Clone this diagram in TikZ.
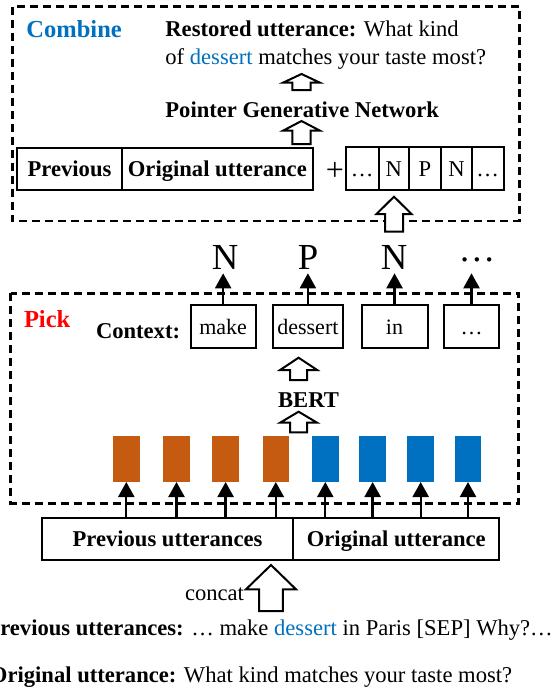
\documentclass[tikz,border=0pt]{standalone}
\usepackage{fontspec}
\setmainfont{Liberation Serif}
\usetikzlibrary{arrows.meta}
\definecolor{myblue}{HTML}{0070C0}
\definecolor{myorange}{HTML}{C55A11}
\definecolor{myred}{HTML}{FF0000}
\newcommand\myfs[1]{\fontsize{#1}{#1}\selectfont}
\newcommand\hollowarrow[6]{%
  \draw[hollow] (#1,#2) -- (#1+#3,#5) -- (#1+#4,#5) -- (#1+#4,#6) -- (#1-#4,#6) -- (#1-#4,#5) -- (#1-#3,#5) -- cycle;}
\begin{document}
\begin{tikzpicture}[x=1pt,y=-1pt,
  every node/.style={inner sep=0pt, outer sep=0pt},
  txt/.style={font=\myfs{22.6}},
  btxt/.style={font=\myfs{22.6}\bfseries},
  box/.style={draw, line width=2pt, text height=15pt, text depth=0pt},
  dashbox/.style={draw, line width=2.5pt, dash pattern=on 8pt off 5pt},
  arr/.style={line width=2.3pt, -{Triangle[width=16pt,length=15pt]}},
  hollow/.style={draw, line width=2pt, fill=white, line join=miter},
  bar/.style={minimum width=26.5pt, minimum height=46pt},
  big/.style={font=\myfs{36.7}, text depth=0pt}]
\useasboundingbox (0,0) rectangle (554,688);
\clip (0,0) rectangle (554,688);

% group boxes
\draw[dashbox] (12.7,6.7) rectangle (519.4,221);
\draw[dashbox] (10.6,293.3) rectangle (518.7,503.3);

% ---------- Combine ----------
\node[anchor=base west, font=\myfs{24.5}\bfseries, text=myblue] (comb) at (26.5,37.5) {Combine};
\node[anchor=base west, txt] (rest1) at (165.4,36.7) {\textbf{Restored utterance:} What kind};
\node[anchor=base west, txt] (rest2) at (165.4,64) {of \textcolor{myblue}{dessert} matches your taste most?};
\node[anchor=base west, btxt] (pgn) at (165.4,117) {Pointer Generative Network};

\node[box, btxt, minimum width=105pt, minimum height=42pt, anchor=north west] (cprev) at (17,148) {Previous};
\node[box, btxt, minimum width=190.7pt, minimum height=42pt, anchor=north west] (corig) at (122,148) {Original utterance};
\node[font=\myfs{32}] (plus) at (335,171.5) {+};
\node[box, txt, minimum width=33.2pt, minimum height=43pt, anchor=north west] (t1) at (345.6,147) {…};
\node[box, txt, minimum width=30pt, minimum height=43pt, anchor=north west] (t2) at (378.8,147) {N};
\node[box, txt, minimum width=32.2pt, minimum height=43pt, anchor=north west] (t3) at (408.8,147) {P};
\node[box, txt, minimum width=31pt, minimum height=43pt, anchor=north west] (t4) at (441,147) {N};
\node[box, txt, minimum width=31.5pt, minimum height=43pt, anchor=north west] (t5) at (472,147) {…};

\hollowarrow{301.5}{74}{18.5}{9.2}{82.7}{90}
\hollowarrow{301.5}{121}{18.5}{9.2}{130.7}{144}
\hollowarrow{394}{196.7}{17.5}{9}{214}{231.7}

% ---------- Pick ----------
\node[anchor=base west, font=\myfs{24.5}\bfseries, text=myred] (pick) at (24,327.3) {Pick};
\node[anchor=base west, btxt] (ctx) at (96,338.3) {Context:};
\node[box, font=\myfs{22}, minimum width=64.7pt, minimum height=43pt, anchor=north west] (c1) at (190.8,305) {make};
\node[box, font=\myfs{22}, minimum width=69.8pt, minimum height=43pt, anchor=north west] (c2) at (273,305) {dessert};
\node[box, font=\myfs{22}, minimum width=66.1pt, minimum height=43pt, anchor=north west] (c3) at (361.5,305) {in};
\node[box, font=\myfs{22}, minimum width=55pt, minimum height=43pt, anchor=north west] (c4) at (444,305) {…};

\node[big, anchor=base] (l1) at (225,269.3) {N};
\node[big, anchor=base] (l2) at (308,269.3) {P};
\node[big, anchor=base] (l3) at (394,269.3) {N};
\node[big, anchor=base] (l4) at (477,261) {…};

\draw[arr, shorten >=4pt] (c1.north) -- (c1.north |- l1.south);
\draw[arr, shorten >=4pt] (c2.north) -- (c2.north |- l2.south);
\draw[arr, shorten >=4pt] (c3.north) -- (c3.north |- l3.south);
\draw[arr, shorten >=4pt] (c4.north) -- (c4.north |- l1.south);

\hollowarrow{298.6}{357.7}{18.5}{8.5}{370}{380}
\node[anchor=base, btxt] (bert) at (308.5,407.7) {BERT};
\hollowarrow{298.6}{411.7}{18.5}{8.5}{422.7}{432.3}

\node[bar, fill=myorange] (b1) at (126.3,459) {};
\node[bar, fill=myorange] (b2) at (176.5,459) {};
\node[bar, fill=myorange] (b3) at (225.6,459) {};
\node[bar, fill=myorange] (b4) at (275.8,459) {};
\node[bar, fill=myblue] (b5) at (325.3,459) {};
\node[bar, fill=myblue] (b6) at (372.6,459) {};
\node[bar, fill=myblue] (b7) at (420.7,459) {};
\node[bar, fill=myblue] (b8) at (468,459) {};

% ---------- input ----------
\node[box, btxt, minimum width=251.6pt, minimum height=41.7pt, anchor=north west] (bprev) at (41.7,518.3) {Previous utterances};
\node[box, btxt, minimum width=206pt, minimum height=41.7pt, anchor=north west] (borig) at (293.3,518.3) {Original utterance};

\foreach \i in {1,...,8} {
  \draw[arr] (b\i.south |- bprev.north) -- (b\i.south);
}

\hollowarrow{271}{565}{25}{11.8}{589.3}{611}
\node[anchor=base east, txt] (concat) at (244,600) {concat};

\node[anchor=base west, txt] (pu) at (-13.5,635) {\textbf{Previous utterances:} … make \textcolor{myblue}{dessert} in Paris [SEP] Why?…};
\node[anchor=base west, txt] (ou) at (-10,682) {\textbf{Original utterance:} What kind matches your taste most?};
\end{tikzpicture}
\end{document}
